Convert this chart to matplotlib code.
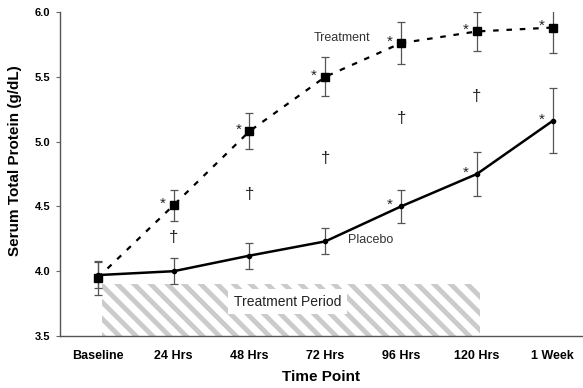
import matplotlib
matplotlib.use("Agg")
import matplotlib.pyplot as plt
from matplotlib.patches import Rectangle

plt.rcParams['font.family'] = ['Liberation Sans', 'DejaVu Sans']
plt.rcParams['hatch.linewidth'] = 3.5

categories = ["Baseline", "24 Hrs", "48 Hrs", "72 Hrs", "96 Hrs", "120 Hrs", "1 Week"]
treatment = [3.95, 4.51, 5.08, 5.50, 5.76, 5.85, 5.88]
treatment_err = [0.13, 0.12, 0.14, 0.15, 0.16, 0.15, 0.20]
placebo = [3.97, 4.00, 4.12, 4.23, 4.50, 4.75, 5.16]
placebo_err = [0.10, 0.10, 0.10, 0.10, 0.13, 0.17, 0.25]
treatment_star = [False, True, True, True, True, True, True]
placebo_star = [False, False, False, False, True, True, True]
dagger_idx = [1, 2, 3, 4, 5]
dagger_y = [4.26, 4.59, 4.87, 5.18, 5.35]
period_start, period_end = 0.05, 5.04
period_top = 3.90

fig = plt.figure(figsize=(5.83, 3.88), dpi=100)
ax = fig.add_axes([60/583, 52/388, 523/583, 324/388])
x = list(range(len(categories)))

ax.add_patch(Rectangle((period_start, 3.5), period_end - period_start, period_top - 3.5,
                       facecolor='white', edgecolor='#cbcbcb', linewidth=0, hatch='\\\\', zorder=1))
ax.text(2.5, 3.765, "Treatment Period", fontsize=10, ha='center', va='center', color='#222',
        bbox=dict(boxstyle='square,pad=0.4', facecolor='white', edgecolor='none'), zorder=2)

ax.errorbar(x, treatment, yerr=treatment_err, fmt='none', ecolor='#555', elinewidth=0.9,
            capsize=3, capthick=0.9, zorder=3)
ax.errorbar(x, placebo, yerr=placebo_err, fmt='none', ecolor='#555', elinewidth=0.9,
            capsize=3, capthick=0.9, zorder=3)
ax.plot(x, treatment, color='black', lw=1.6, linestyle=(0, (2.5, 3.5)), marker='s',
        markersize=6, zorder=4)
ax.plot(x, placebo, color='black', lw=1.8, marker='o', markersize=3, zorder=4)

for i, s in enumerate(treatment_star):
    if s:
        ax.annotate("*", (x[i], treatment[i]), xytext=(-8, 1), textcoords='offset points',
                    ha='center', va='center', fontsize=11, color='#222')
for i, s in enumerate(placebo_star):
    if s:
        ax.annotate("*", (x[i], placebo[i]), xytext=(-8, 1), textcoords='offset points',
                    ha='center', va='center', fontsize=11, color='#222')
for i, yv in zip(dagger_idx, dagger_y):
    ax.text(x[i], yv, "\u2020", ha='center', va='center', fontsize=12, color='#222')

ax.text(3.22, 5.80, "Treatment", fontsize=9, ha='center', va='center', color='#333')
ax.text(3.30, 4.24, "Placebo", fontsize=9, ha='left', va='center', color='#333')

ax.set_xlim(-0.5, 6.4)
ax.set_ylim(3.5, 6.0)
ax.set_xticks(x)
ax.set_xticklabels(categories, fontsize=9, fontweight='bold')
ax.set_yticks([3.5, 4.0, 4.5, 5.0, 5.5, 6.0])
ax.set_yticklabels(["3.5", "4.0", "4.5", "5.0", "5.5", "6.0"], fontsize=8, fontweight='bold')
ax.tick_params(axis='x', length=0, pad=10)
ax.tick_params(axis='y', length=3, direction='out', color='#666', pad=4)
for side in ['top', 'right']:
    ax.spines[side].set_visible(False)
for side in ['left', 'bottom']:
    ax.spines[side].set_color('#555')
    ax.spines[side].set_linewidth(1.0)
ax.set_xlabel("Time Point", fontsize=11, fontweight='bold', labelpad=6)
ax.set_ylabel("Serum Total Protein (g/dL)", fontsize=11, fontweight='bold', labelpad=8)
ax.yaxis.set_label_coords(-0.072, 0.54)

fig.savefig("out.png", dpi=100)
